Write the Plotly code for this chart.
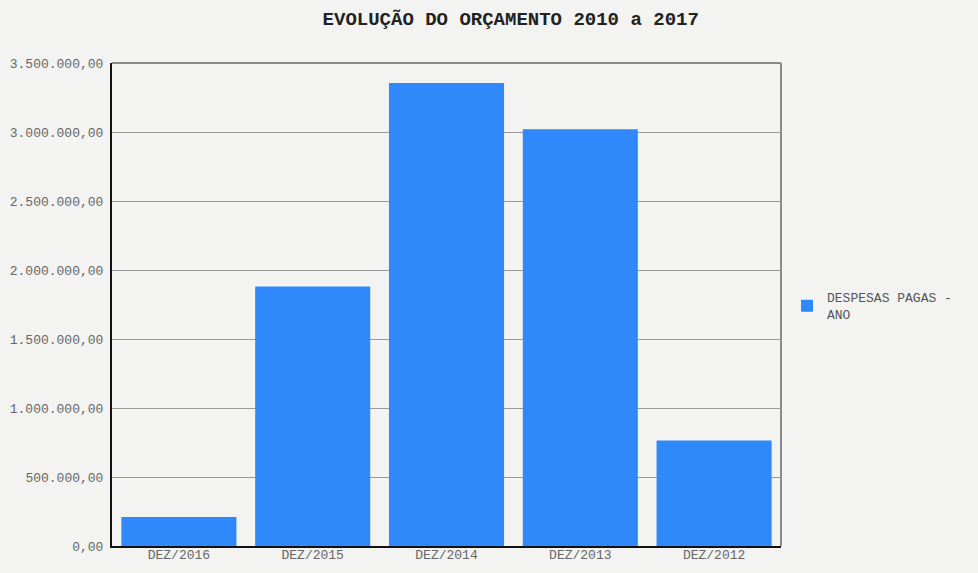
import plotly.graph_objects as go

# Budget evolution: amounts paid per year (R$)
categories = ["DEZ/2016", "DEZ/2015", "DEZ/2014", "DEZ/2013", "DEZ/2012"]
despesas_pagas = [210000, 1880000, 3355000, 3020000, 765000]
y_ticks = [0, 500000, 1000000, 1500000, 2000000, 2500000, 3000000, 3500000]

BG = "#f3f3f1"
MONO = "Liberation Mono, Courier New, monospace"

fig = go.Figure()
fig.add_trace(go.Bar(
    x=categories,
    y=despesas_pagas,
    name="DESPESAS PAGAS -<br>ANO",
    marker=dict(color="#2f89fb", line=dict(width=0)),
))

fig.update_layout(
    width=978,
    height=573,
    paper_bgcolor=BG,
    plot_bgcolor=BG,
    margin=dict(l=112, r=197, t=63, b=27),
    separators=",.",
    bargap=0.14,
    font=dict(family=MONO, size=13, color="#666666"),
    title=dict(
        text="<b>EVOLUÇÃO DO ORÇAMENTO 2010 a 2017</b>",
        font=dict(family=MONO, size=19, color="#222222"),
        x=0.596, xref="paper", xanchor="center",
        y=0.968, yref="container", yanchor="middle",
    ),
    showlegend=True,
    legend=dict(
        x=1.009, y=0.497, xanchor="left", yanchor="middle",
        bgcolor="rgba(0,0,0,0)",
        font=dict(family=MONO, size=13, color="#555555"),
        itemwidth=30,
    ),
    xaxis=dict(
        automargin=False,
        showgrid=False,
        showline=True, linecolor="#111111", linewidth=2,
        layer="below traces",
        ticks="", tickfont=dict(size=13, color="#666666"),
        ticklabelstandoff=-5,
    ),
    yaxis=dict(
        automargin=False,
        range=[0, 3500000],
        tickvals=y_ticks,
        tickformat=",.2f",
        showgrid=True, gridcolor="#999999", gridwidth=1,
        zeroline=False,
        showline=True, linecolor="#111111", linewidth=2,
        layer="below traces",
        ticks="", tickfont=dict(size=13, color="#666666"),
        ticklabelstandoff=4,
    ),
    shapes=[
        dict(type="line", xref="paper", yref="paper", x0=0, x1=1, y0=1, y1=1,
             line=dict(color="#8a8a8a", width=2), layer="below"),
        dict(type="line", xref="paper", yref="paper", x0=1, x1=1, y0=0, y1=1,
             line=dict(color="#8a8a8a", width=2), layer="below"),
    ],
)

fig.write_html("out.html")
